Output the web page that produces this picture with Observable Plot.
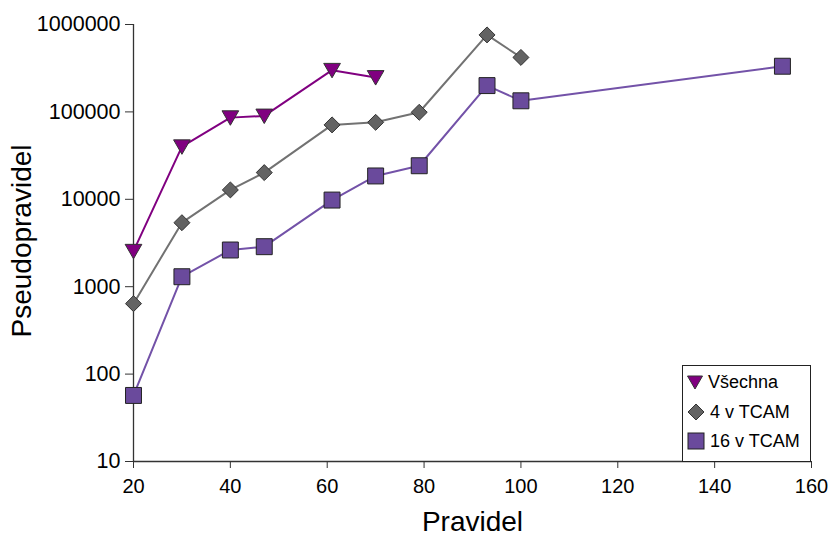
<!DOCTYPE html>
<html>
<head>
<meta charset="utf-8">
<script src="https://cdn.jsdelivr.net/npm/d3@7"></script>
<script src="https://cdn.jsdelivr.net/npm/@observablehq/plot@0.6"></script>
<style>
  html, body { margin: 0; padding: 0; background: #fff; }
  #wrap { position: relative; width: 829px; height: 538px; font-family: "Liberation Sans", Arial, sans-serif; }
  #legend { position: absolute; left: 682px; top: 365px; width: 127px; height: 95px; border: 1px solid #222; background: #fff; box-sizing: content-box; }
  .item { position: absolute; left: 4px; height: 24px; display: flex; align-items: center; font-size: 18px; color: #000; }
  .item svg { margin-right: 5px; }
</style>
</head>
<body>
<div id="wrap"></div>
<script>
// ---- data ----
const seriesNames = ["Všechna", "4 v TCAM", "16 v TCAM"];
const rulesAll = [20, 30, 40, 47, 61, 70];
const valuesAll = [2550, 40000, 86000, 90000, 300000, 248000];
const rules4 = [20, 30, 40, 47, 61, 70, 79, 93, 100];
const values4 = [640, 5400, 12800, 20200, 71000, 76000, 99000, 760000, 420000];
const rules16 = [20, 30, 40, 47, 61, 70, 79, 93, 100, 154];
const values16 = [57, 1300, 2630, 2870, 9800, 18500, 24200, 200000, 134000, 333000];
const xTicks = [20, 40, 60, 80, 100, 120, 140, 160];
const yTicks = [10, 100, 1000, 10000, 100000, 1000000];
const xTitle = "Pravidel";
const yTitle = "Pseudopravidel";

const toRows = (xs, ys) => xs.map((x, i) => ({x, y: ys[i]}));
const dAll = toRows(rulesAll, valuesAll);
const d4 = toRows(rules4, values4);
const d16 = toRows(rules16, values16);

const colAll = "#800080", col4 = "#727272", col16 = "#7352a8";
const fillAll = "#800080", fill4 = "#636363", fill16 = "#6a4a9c";

const chart = Plot.plot({
  width: 829,
  height: 538,
  marginLeft: 133,
  marginRight: 18,
  marginTop: 24,
  marginBottom: 77,
  style: {fontFamily: "'Liberation Sans', Arial, sans-serif", fontSize: "20px", background: "white", color: "#000", overflow: "visible"},
  x: {domain: [20, 160]},
  y: {type: "log", domain: [10, 1000000]},
  marks: [
    Plot.ruleY([10], {stroke: "#333", strokeWidth: 1.3}),
    Plot.ruleX([20], {stroke: "#333", strokeWidth: 1.3}),
    Plot.axisX(xTicks, {tickSize: 7, tickPadding: 10, label: null, stroke: "#333", fill: "#000", fontSize: 20}),
    Plot.axisY(yTicks, {tickSize: 8, tickPadding: 5, label: null, tickFormat: d3.format("d"), stroke: "#333", fill: "#000", fontSize: 21.5}),
    Plot.text([xTitle], {frameAnchor: "bottom", lineAnchor: "middle", textAnchor: "middle", dy: 61, fontSize: 28, fill: "#000"}),
    Plot.text([yTitle], {frameAnchor: "left", lineAnchor: "middle", textAnchor: "middle", dx: -111, dy: -2, rotate: -90, fontSize: 28, fill: "#000"}),
    Plot.line(d16, {x: "x", y: "y", stroke: col16, strokeWidth: 2}),
    Plot.line(d4, {x: "x", y: "y", stroke: col4, strokeWidth: 2}),
    Plot.line(dAll, {x: "x", y: "y", stroke: colAll, strokeWidth: 2}),
    Plot.dot(d16, {x: "x", y: "y", symbol: "square", r: 9, fill: fill16, stroke: "#222", strokeWidth: 1}),
    Plot.dot(d4, {x: "x", y: "y", symbol: "diamond2", r: 7.2, fill: fill4, stroke: "#333", strokeWidth: 1}),
    Plot.dot(dAll, {x: "x", y: "y", symbol: "triangle", rotate: 180, dy: -2, r: 6.2, fill: fillAll, stroke: "#333", strokeWidth: 1})
  ]
});

const wrap = document.getElementById("wrap");
wrap.appendChild(chart);

// legend
const legend = document.createElement("div");
legend.id = "legend";
const sym = [
  `<svg width="16" height="16" viewBox="-8 -8 16 16"><path d="M-7.5,-6 L7.5,-6 L0,7 Z" fill="${fillAll}" stroke="#333" stroke-width="1"/></svg>`,
  `<svg width="18" height="18" viewBox="-9 -9 18 18"><path d="M0,-8 L8,0 L0,8 L-8,0 Z" fill="${fill4}" stroke="#333" stroke-width="1"/></svg>`,
  `<svg width="18" height="18" viewBox="-9 -9 18 18"><rect x="-8" y="-8" width="16" height="16" fill="${fill16}" stroke="#222" stroke-width="1"/></svg>`
];
const tops = [4, 34, 63];
seriesNames.forEach((name, i) => {
  const it = document.createElement("div");
  it.className = "item";
  it.style.top = tops[i] + "px";
  it.innerHTML = sym[i] + `<span>${name}</span>`;
  legend.appendChild(it);
});
wrap.appendChild(legend);
</script>
</body>
</html>
